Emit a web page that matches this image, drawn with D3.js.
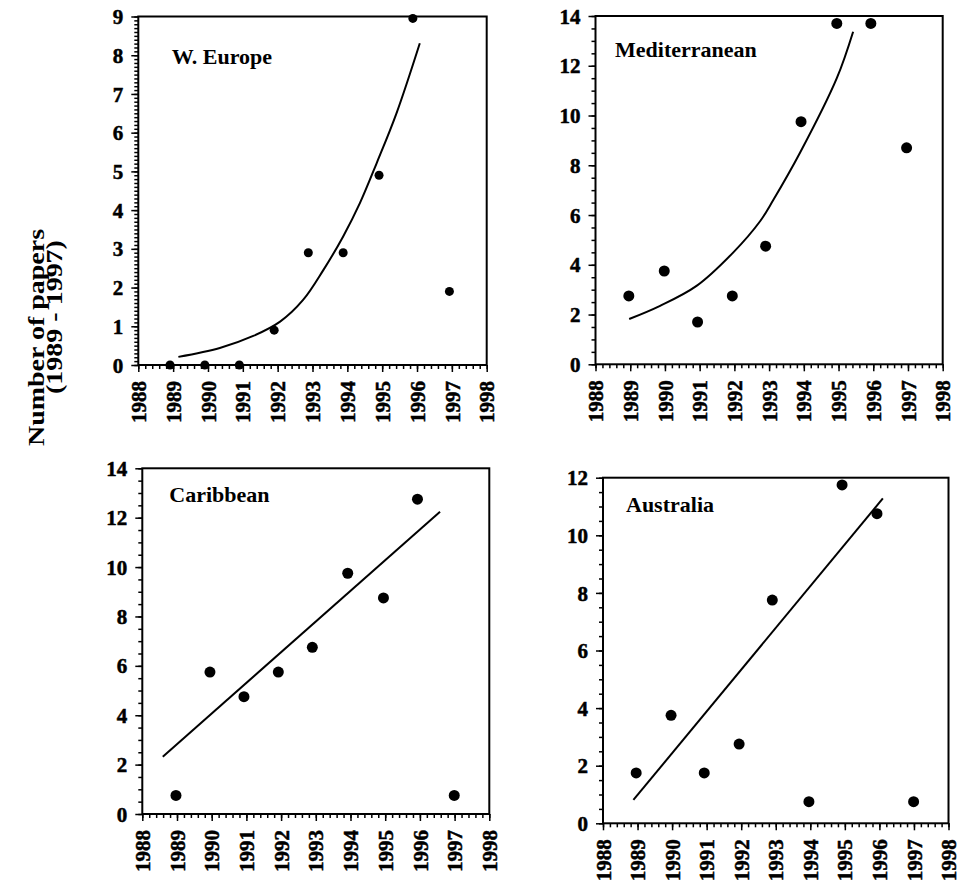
<!DOCTYPE html>
<meta charset="utf-8">
<style>
  body{ margin:0; background:#fff; }
  .tick line{ stroke:#000; stroke-width:1.5; }
  .frame{ fill:none; stroke:#000; stroke-width:2; }
  .trend{ fill:none; stroke:#000; stroke-width:2; }
</style>
<body>
<div id="chart"></div>
<script src="https://cdn.jsdelivr.net/npm/d3@7"></script>
<script>

// data (x = plotted year position, y = number of papers)
var weYears = [1988.91, 1989.91, 1990.9, 1991.9, 1992.88, 1993.88, 1994.91, 1995.88, 1996.93];
var wePapers = [0, 0, 0, 0.9, 2.9, 2.9, 4.9, 8.95, 1.9];
var weTrendYears = [1989.15, 1990.34, 1991.3, 1992.07, 1992.73, 1993.31, 1993.88, 1994.36, 1994.84, 1995.41, 1996.08];
var weTrendPapers = [0.21, 0.44, 0.75, 1.12, 1.68, 2.45, 3.32, 4.18, 5.21, 6.5, 8.31];

var medYears = [1988.96, 1989.98, 1990.94, 1991.94, 1992.9, 1993.92, 1994.95, 1995.93, 1996.96];
var medPapers = [2.75, 3.75, 1.7, 2.75, 4.75, 9.75, 13.7, 13.7, 8.7];
var medTrendYears = [1988.97, 1989.86, 1990.91, 1991.97, 1992.74, 1993.12, 1993.89, 1994.95, 1995.42];
var medTrendPapers = [1.82, 2.35, 3.15, 4.5, 5.75, 6.6, 8.5, 11.5, 13.37];

var carYears = [1988.97, 1989.95, 1990.93, 1991.92, 1992.9, 1993.92, 1994.95, 1995.93, 1996.99];
var carPapers = [0.75, 5.75, 4.75, 5.75, 6.75, 9.75, 8.75, 12.75, 0.75];
var carTrendYears = [1988.59, 1996.58];
var carTrendPapers = [2.32, 12.24];

var ausYears = [1988.96, 1989.97, 1990.93, 1991.94, 1992.9, 1993.96, 1994.92, 1995.93, 1996.99];
var ausPapers = [1.75, 3.75, 1.75, 2.75, 7.75, 0.75, 11.75, 10.75, 0.75];
var ausTrendYears = [1988.88, 1996.1];
var ausTrendPapers = [0.81, 11.28];

var yearTicks = d3.range(1988, 1999);
var weTicks = d3.range(0, 10, 1);
var medTicks = d3.range(0, 15, 2);
var carTicks = d3.range(0, 15, 2);
var ausTicks = d3.range(0, 13, 2);

var serif = '"Liberation Serif","Times New Roman",serif';

var svg = d3.select('#chart').append('svg').attr('width', 959).attr('height', 887);

var panels = [
  {name:'W. Europe', x:weYears, y:wePapers, tx:weTrendYears, ty:weTrendPapers, ticks:weTicks, ymax:9, minor:0.1,
   left:138.3, right:486.7, top:16.5, bottom:365, r:4.5, curve:d3.curveCatmullRom, lx:33.5, ly:47.5},
  {name:'Mediterranean', x:medYears, y:medPapers, tx:medTrendYears, ty:medTrendPapers, ticks:medTicks, ymax:14, minor:0.5,
   left:595.5, right:942.7, top:16, bottom:364.3, r:5.5, curve:d3.curveCatmullRom, lx:19.5, ly:41},
  {name:'Caribbean', x:carYears, y:carPapers, tx:carTrendYears, ty:carTrendPapers, ticks:carTicks, ymax:14, minor:0.5,
   left:142.3, right:489.3, top:468.3, bottom:814, r:5.5, curve:d3.curveLinear, lx:27, ly:34},
  {name:'Australia', x:ausYears, y:ausPapers, tx:ausTrendYears, ty:ausTrendPapers, ticks:ausTicks, ymax:12, minor:0.5,
   left:603, right:948.5, top:477.7, bottom:823.3, r:5.5, curve:d3.curveLinear, lx:23, ly:34}
];

function boldText(sel, size){
  sel.attr('font-family', serif).attr('font-weight', 'bold').attr('font-size', size)
    .style('font-family', serif).style('font-weight', 'bold').style('font-size', size + 'px').attr('fill', '#000');
}

// scanned labels look heavier than the plain bold face
function heavy(sel){
  sel.attr('stroke', '#000').attr('stroke-width', 0.5);
}

panels.forEach(function(p){
  var x = d3.scaleLinear().domain([1988, 1998]).range([p.left, p.right]);
  var y = d3.scaleLinear().domain([0, p.ymax]).range([p.bottom, p.top]);
  var g = svg.append('g');

  // minor ticks
  g.append('g').attr('transform', 'translate(' + p.left + ',0)')
    .call(d3.axisLeft(y).tickValues(d3.range(0, p.ymax + 1e-6, p.minor)).tickSize(4).tickFormat(''))
    .call(function(a){ a.select('.domain').remove(); });
  g.append('g').attr('transform', 'translate(0,' + p.bottom + ')')
    .call(d3.axisBottom(x).tickValues(d3.range(1988, 1998.001, 0.2)).tickSize(4).tickFormat(''))
    .call(function(a){ a.select('.domain').remove(); });

  // major ticks + labels
  g.append('g').attr('transform', 'translate(' + p.left + ',0)')
    .call(d3.axisLeft(y).tickValues(p.ticks).tickSize(7).tickPadding(8).tickFormat(d3.format('d')))
    .call(function(a){
      a.select('.domain').remove();
      a.call(boldText, 21);
      a.selectAll('text').attr('dy', '0.34em').call(boldText, 21).call(heavy);
    });
  g.append('g').attr('transform', 'translate(0,' + p.bottom + ')')
    .call(d3.axisBottom(x).tickValues(yearTicks).tickSize(7).tickFormat(d3.format('d')))
    .call(function(a){
      a.select('.domain').remove();
      a.call(boldText, 21);
      a.selectAll('text')
        .attr('transform', 'rotate(-90)')
        .attr('text-anchor', 'end')
        .attr('x', -16).attr('y', 0).attr('dy', '0.34em')
        .call(boldText, 21).call(heavy);
    });

  g.append('rect').attr('class', 'frame')
    .attr('x', p.left).attr('y', p.top)
    .attr('width', p.right - p.left).attr('height', p.bottom - p.top);

  var line = d3.line().x(function(d){ return x(d[0]); }).y(function(d){ return y(d[1]); }).curve(p.curve);
  g.append('path').attr('class', 'trend').attr('d', line(d3.zip(p.tx, p.ty)));

  g.selectAll('circle').data(d3.zip(p.x, p.y)).enter().append('circle')
    .attr('cx', function(d){ return x(d[0]); })
    .attr('cy', function(d){ return y(d[1]); })
    .attr('r', p.r).attr('fill', '#000');

  g.append('text')
    .attr('x', p.left + p.lx).attr('y', p.top + p.ly).text(p.name)
    .call(boldText, 22);
});

svg.append('text').attr('text-anchor', 'middle')
  .attr('transform', 'translate(44,337.5) rotate(-90) scale(1,0.85)').text('Number of papers')
  .call(boldText, 28);
svg.append('text').attr('text-anchor', 'middle')
  .attr('transform', 'translate(62,317) rotate(-90) scale(1,0.85)').text('(1989 - 1997)')
  .call(boldText, 28);

</script>
</body>
